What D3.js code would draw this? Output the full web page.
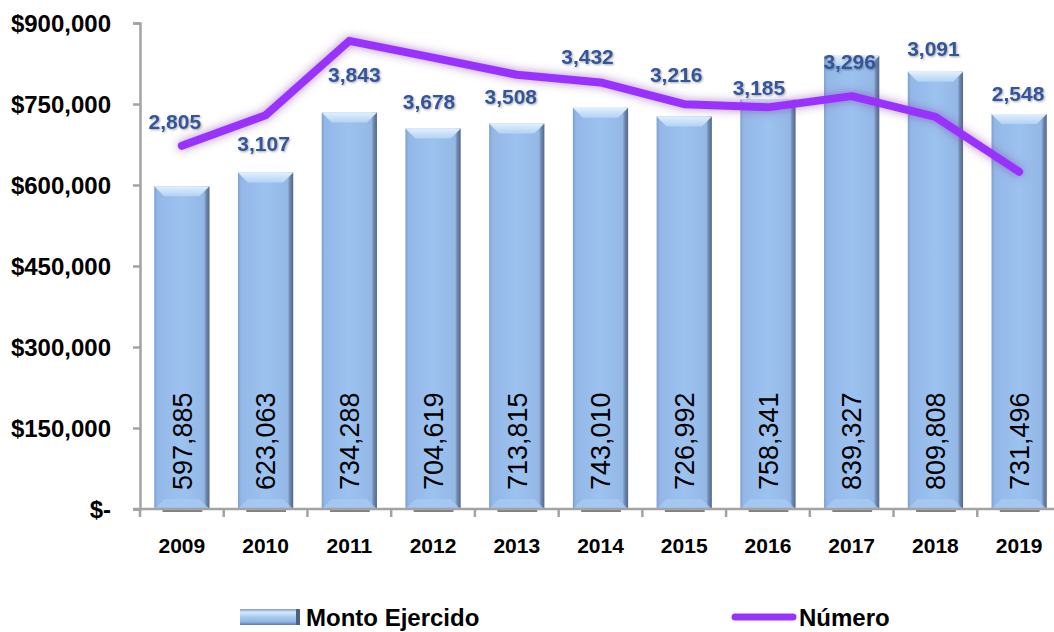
<!DOCTYPE html>
<html><head><meta charset="utf-8">
<script src="https://cdn.jsdelivr.net/npm/d3@7/dist/d3.min.js"></script>
<style>
html,body{margin:0;padding:0;background:#fff;}
svg{display:block;}
text{font-family:"Liberation Sans",Arial,sans-serif;}
</style></head>
<body>
<svg id="chart" width="1054" height="632"></svg>
<script>
const years = ["2009","2010","2011","2012","2013","2014","2015","2016","2017","2018","2019"];
const montoEjercido = [597885,623063,734288,704619,713815,743010,726992,758341,839327,809808,731496];
const numero = [2805,3107,3843,3678,3508,3432,3216,3185,3296,3091,2548];
const yTicks = [0,150000,300000,450000,600000,750000,900000];
const yTickLabels = ["$-","$150,000","$300,000","$450,000","$600,000","$750,000","$900,000"];
// layout: offsets of the "Número" labels relative to their points (px)
const numLabelDx = [-7,-2,5,-4,-6,-13,-8,-9,-2,-2,-1];
const numLabelDy = [-24,28,34,44,22,-26,-30,-20,-35,-68,-78];

const svg = d3.select("#chart");
const pLeft = 140, pRight = 1061, pTop = 23, pBottom = 509;

const x = d3.scaleBand().domain(years).range([pLeft, pRight]).paddingInner(0.34).paddingOuter(0.17);
const xb = d3.scaleBand().domain(years).range([pLeft, pRight]);
const y = d3.scaleLinear().domain([0, 900000]).range([pBottom, pTop]);
const y2 = d3.scaleLinear().domain([-790, 4020]).range([pBottom, pTop]);

const defs = svg.append("defs");
const g1 = defs.append("linearGradient").attr("id","barGrad").attr("x1","0").attr("x2","1").attr("y1","0").attr("y2","0");
[[0,"#7f9fcc"],[0.06,"#93b8e8"],[0.5,"#9cc2f0"],[0.9,"#93b8e6"],[0.94,"#7089ae"],[1,"#52678a"]].forEach(s=>g1.append("stop").attr("offset",s[0]).attr("stop-color",s[1]));
const g2 = defs.append("linearGradient").attr("id","bevTop").attr("x1","0").attr("x2","0").attr("y1","0").attr("y2","1");
[[0,"#e2f0fd"],[1,"#b2d2f5"]].forEach(s=>g2.append("stop").attr("offset",s[0]).attr("stop-color",s[1]));
const g3 = defs.append("linearGradient").attr("id","legGrad").attr("x1","0").attr("x2","0").attr("y1","0").attr("y2","1");
[[0,"#7e9cc8"],[0.2,"#d5e8fb"],[0.5,"#a9cbf3"],[0.8,"#8fb4e4"],[1,"#5f7aa3"]].forEach(s=>g3.append("stop").attr("offset",s[0]).attr("stop-color",s[1]));
const f = defs.append("filter").attr("id","glow").attr("x","-10%").attr("y","-40%").attr("width","120%").attr("height","180%");
f.append("feGaussianBlur").attr("in","SourceAlpha").attr("stdDeviation",5).attr("result","b");
f.append("feFlood").attr("flood-color","#7a3a9a").attr("flood-opacity",0.6);
f.append("feComposite").attr("in2","b").attr("operator","in").attr("result","s");
const fm = f.append("feMerge"); fm.append("feMergeNode").attr("in","s"); fm.append("feMergeNode").attr("in","SourceGraphic");
const ft = defs.append("filter").attr("id","tshadow").attr("x","-10%").attr("y","-20%").attr("width","130%").attr("height","150%");
ft.append("feDropShadow").attr("dx",1).attr("dy",1).attr("stdDeviation",0.8).attr("flood-color","#000").attr("flood-opacity",0.35);

// bar shadows
svg.append("g").selectAll("rect").data(years).join("rect")
  .attr("x", d=>x(d)+x.bandwidth()*0.15).attr("width", x.bandwidth()*0.72)
  .attr("y", pBottom).attr("height", 3).attr("fill","#808080");

// bars
const bars = svg.append("g").selectAll("g").data(years).join("g");
bars.append("rect")
  .attr("x", d=>x(d)).attr("width", x.bandwidth())
  .attr("y", (d,i)=>y(montoEjercido[i])).attr("height",(d,i)=>pBottom-y(montoEjercido[i]))
  .attr("fill","url(#barGrad)");
const bev = 10;
bars.append("path")
  .attr("d",(d,i)=>{const x0=x(d), x1=x0+x.bandwidth(), t=y(montoEjercido[i]);
    return `M${x0},${t}L${x1},${t}L${x1-bev},${t+bev}L${x0+bev},${t+bev}Z`;})
  .attr("fill","url(#bevTop)");
bars.append("path")
  .attr("d",(d,i)=>{const x0=x(d), x1=x0+x.bandwidth(), b=pBottom;
    return `M${x0},${b}L${x1},${b}L${x1-bev},${b-bev}L${x0+bev},${b-bev}Z`;})
  .attr("fill","#a8c9f1").attr("opacity",0.8);

// axes
const axisColor = "#a3a3a3";
const yAxis = svg.append("g").attr("transform",`translate(${pLeft},0)`)
  .call(d3.axisLeft(y).tickValues(yTicks).tickSize(7).tickFormat((d,i)=>yTickLabels[i]).tickPadding(22));
yAxis.select(".domain").attr("stroke",axisColor).attr("stroke-width",2.5);
yAxis.selectAll(".tick line").attr("stroke",axisColor).attr("stroke-width",2.5);
yAxis.selectAll(".tick text").attr("font-size",24).attr("font-weight","bold").attr("fill","#000")
  .attr("font-family","'Liberation Sans',Arial,sans-serif").attr("dy","0.36em");

const xAxis = svg.append("g").attr("transform",`translate(0,${pBottom})`)
  .call(d3.axisBottom(xb).tickSize(0).tickPadding(29));
xAxis.select(".domain").remove();
svg.append("line").attr("x1",pLeft-7).attr("x2",1054).attr("y1",pBottom).attr("y2",pBottom).attr("stroke",axisColor).attr("stroke-width",2.5);
svg.append("g").selectAll("line").data(years).join("line")
  .attr("x1",d=>xb(d)).attr("x2",d=>xb(d)).attr("y1",pBottom).attr("y2",pBottom+8)
  .attr("stroke",axisColor).attr("stroke-width",2.5);
xAxis.selectAll(".tick text").attr("font-size",21).attr("font-weight","bold").attr("fill","#000")
  .attr("font-family","'Liberation Sans',Arial,sans-serif");

// bar value labels
svg.append("g").selectAll("text").data(years).join("text")
  .attr("transform",d=>`translate(${x(d)+x.bandwidth()/2},490) rotate(-90)`)
  .attr("dy","0.36em").attr("text-anchor","start")
  .attr("font-size",27).attr("fill","#000")
  .text((d,i)=>d3.format(",")(montoEjercido[i]));

// line
const line = d3.line().x((d,i)=>xb(years[i])+xb.bandwidth()/2).y(d=>y2(d));
svg.append("path").datum(numero).attr("d",line)
  .attr("fill","none").attr("stroke","#9933ff").attr("stroke-width",8)
  .attr("stroke-linejoin","round").attr("stroke-linecap","round").attr("filter","url(#glow)");

// line labels
svg.append("g").selectAll("text").data(numero).join("text")
  .attr("x",(d,i)=>xb(years[i])+xb.bandwidth()/2+numLabelDx[i])
  .attr("y",(d,i)=>y2(d)+numLabelDy[i])
  .attr("dy","0.36em").attr("text-anchor","middle")
  .attr("font-size",21).attr("font-weight","bold").attr("fill","#34559b").attr("filter","url(#tshadow)")
  .text(d=>d3.format(",")(d));

// legend
const leg = svg.append("g");
leg.append("rect").attr("x",240).attr("y",609).attr("width",60).attr("height",16).attr("fill","url(#legGrad)");
leg.append("rect").attr("x",296).attr("y",609).attr("width",4).attr("height",16).attr("fill","#4c6180");
leg.append("text").attr("x",306).attr("y",617).attr("dy","0.36em").attr("font-size",24).attr("font-weight","bold").attr("fill","#000").text("Monto Ejercido");
leg.append("line").attr("x1",735).attr("x2",793).attr("y1",617).attr("y2",617).attr("stroke","#9933ff").attr("stroke-width",7).attr("stroke-linecap","round");
leg.append("text").attr("x",799).attr("y",617).attr("dy","0.36em").attr("font-size",24).attr("font-weight","bold").attr("fill","#000").text("Número");
</script>
</body></html>
